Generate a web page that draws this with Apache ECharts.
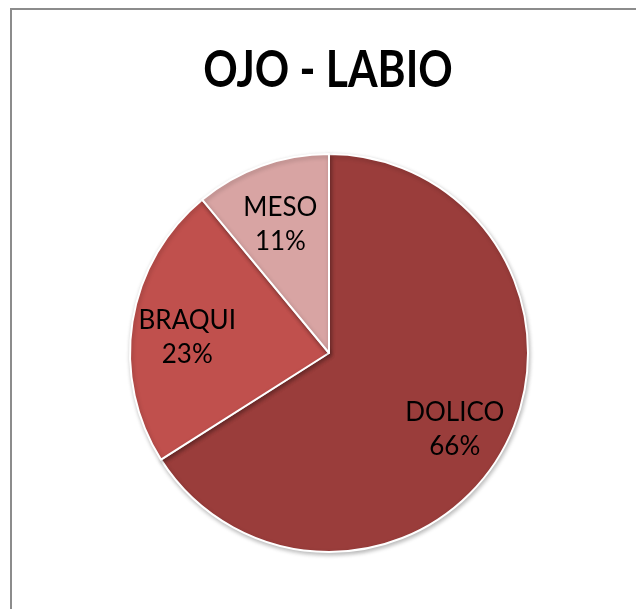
<!DOCTYPE html>
<html>
<head>
<meta charset="utf-8">
<script src="https://cdn.jsdelivr.net/npm/echarts@6/dist/echarts.min.js"></script>
<style>
  html, body { margin: 0; padding: 0; background: #ffffff; }
  #chart { width: 636px; height: 609px; }
</style>
</head>
<body>
<div id="chart"></div>
<script>
// Face proportion types, eye-to-lip measure
const categories = ['DOLICO', 'BRAQUI', 'MESO'];
const values = [66, 23, 11];
const sliceColors = ['#9A3D3B', '#C0504D', '#D8A4A3'];
const chartTitle = 'OJO - LABIO';

const pieData = categories.map((name, i) => ({
  name: name,
  value: values[i],
  itemStyle: { color: sliceColors[i] }
}));

const chart = echarts.init(document.getElementById('chart'), null, { renderer: 'canvas' });

chart.setOption({
  animation: false,
  backgroundColor: '#ffffff',
  graphic: [
    {
      // chart frame
      type: 'rect',
      shape: { x: 11, y: 9, width: 800, height: 800 },
      style: { fill: 'none', stroke: '#8c8c8c', lineWidth: 2 },
      silent: true,
      z: -10
    },
    {
      // heading, narrowed to a condensed look
      type: 'text',
      x: 328,
      y: 70,
      scaleX: 0.82,
      silent: true,
      style: {
        text: chartTitle,
        font: 'bold 52px Lato, "Open Sans", sans-serif',
        fill: '#000000',
        align: 'center',
        verticalAlign: 'middle'
      }
    }
  ],
  series: [
    {
      // filled slices
      type: 'pie',
      center: [329, 353],
      radius: [0, 199],
      startAngle: 90,
      clockwise: true,
      silent: true,
      label: { show: false },
      labelLine: { show: false },
      itemStyle: {
        borderColor: '#ffffff',
        borderWidth: 2,
        shadowBlur: 4,
        shadowColor: 'rgba(0,0,0,0.25)',
        shadowOffsetX: 1,
        shadowOffsetY: 2
      },
      data: pieData
    },
    {
      // transparent ring carrying the category / percent labels
      type: 'pie',
      center: [329, 353],
      radius: [82, 199],
      startAngle: 90,
      clockwise: true,
      silent: true,
      itemStyle: { color: 'rgba(0,0,0,0)', borderWidth: 0 },
      labelLine: { show: false },
      label: {
        show: true,
        position: 'inside',
        offset: [0, 7],
        formatter: '{b}\n{d}%',
        fontFamily: 'Lato, "Open Sans", sans-serif',
        fontSize: 26,
        lineHeight: 34,
        color: '#000000'
      },
      data: categories.map((name, i) => ({ name: name, value: values[i] }))
    }
  ]
});
</script>
</body>
</html>
